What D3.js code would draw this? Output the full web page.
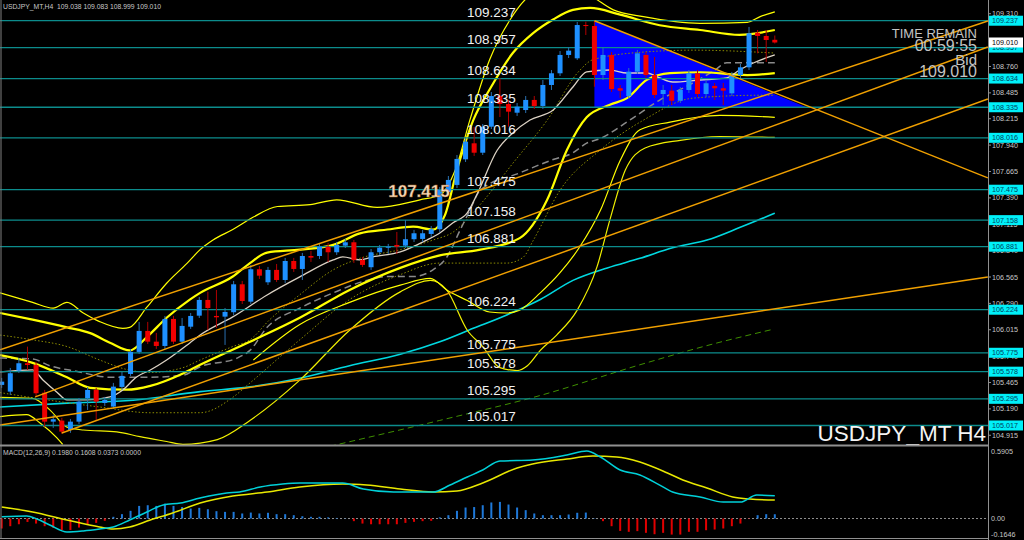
<!DOCTYPE html>
<html><head><meta charset="utf-8">
<script src="https://cdnjs.cloudflare.com/ajax/libs/d3/7.8.5/d3.min.js"></script>
<style>body{margin:0;background:#000;}svg{display:block;}</style>
</head><body>
<svg id="chart" width="1024" height="540"></svg>
<script>
// ---------- DATA ----------
const opens  = [105.440,105.370,105.589,105.666,105.648,105.359,105.057,105.068,104.971,105.057,105.301,105.388,105.252,105.214,105.419,105.554,105.784,106.003,105.891,105.846,106.128,105.891,106.047,106.162,106.326,106.159,106.152,106.198,106.489,106.308,106.646,106.510,106.639,106.534,106.732,106.649,106.784,106.784,106.881,106.823,106.892,106.927,106.743,106.667,106.823,106.871,106.899,106.892,106.959,106.962,107.014,107.063,107.452,107.525,107.792,107.959,107.861,108.132,108.452,108.369,108.278,108.306,108.411,108.348,108.567,108.689,108.880,108.845,109.192,109.182,108.671,108.880,108.533,108.452,108.706,108.880,108.671,108.473,108.508,108.403,108.515,108.689,108.473,108.557,108.533,108.480,108.671,108.751,109.112,109.078,109.038];
const highs  = [105.513,105.617,105.721,105.839,105.680,105.388,105.127,105.096,105.085,105.304,105.419,105.409,105.315,105.461,105.575,105.815,106.097,106.097,105.982,106.159,106.159,106.138,106.190,106.357,106.412,106.430,106.242,106.524,106.524,106.691,106.680,106.670,106.701,106.764,106.764,106.816,106.837,106.920,106.920,106.930,106.962,106.951,106.774,106.857,106.899,106.910,107.035,107.160,107.056,107.056,107.097,107.504,107.618,107.837,108.014,108.129,108.160,108.494,108.640,108.411,108.379,108.452,108.452,108.619,108.723,108.921,108.963,109.224,109.227,109.237,108.963,108.911,108.567,108.744,108.932,108.911,108.859,108.567,108.567,108.546,108.723,108.723,108.619,108.588,108.588,108.703,108.786,109.172,109.140,109.140,109.083];
const lows   = [105.409,105.336,105.565,105.596,105.325,105.005,104.992,104.929,104.940,105.033,105.179,105.075,105.221,105.190,105.388,105.534,105.763,105.867,105.815,105.815,105.867,105.867,106.024,106.138,106.013,106.034,105.857,106.169,106.284,106.284,106.545,106.482,106.513,106.503,106.618,106.534,106.722,106.753,106.722,106.795,106.868,106.712,106.670,106.639,106.795,106.805,106.805,106.868,106.930,106.930,106.983,107.035,107.420,107.493,107.764,107.827,107.837,108.108,108.233,108.132,108.244,108.275,108.317,108.317,108.515,108.661,108.848,108.828,109.088,108.549,108.619,108.494,108.431,108.421,108.682,108.640,108.431,108.358,108.358,108.379,108.484,108.442,108.442,108.411,108.358,108.452,108.640,108.723,108.897,108.807,108.999];
const closes = [105.474,105.562,105.666,105.648,105.353,105.057,105.082,104.953,105.057,105.266,105.388,105.266,105.283,105.422,105.534,105.784,106.003,105.891,105.846,106.128,105.891,106.055,106.159,106.326,106.242,106.145,106.201,106.489,106.315,106.646,106.579,106.639,106.534,106.732,106.649,106.784,106.767,106.881,106.823,106.899,106.927,106.743,106.691,106.823,106.871,106.881,106.881,106.959,107.021,107.021,107.063,107.472,107.577,107.796,107.976,107.861,108.132,108.452,108.369,108.289,108.341,108.411,108.348,108.567,108.689,108.880,108.925,109.192,109.182,108.671,108.880,108.525,108.508,108.706,108.897,108.671,108.463,108.515,108.403,108.515,108.689,108.473,108.585,108.533,108.508,108.671,108.751,109.106,109.078,109.036,109.010];

// MACD histogram, one per bar
const macdHist = [-0.087,-0.067,-0.05,-0.03,-0.044,-0.067,-0.081,-0.1,-0.1,-0.079,-0.05,-0.038,-0.02,0.015,0.038,0.067,0.11,0.116,0.11,0.13,0.11,0.1,0.087,0.093,0.081,0.064,0.058,0.058,0.044,0.052,0.044,0.05,0.038,0.038,0.029,0.02,0.015,0.015,0.01,0.005,0.002,-0.023,-0.044,-0.05,-0.05,-0.05,-0.05,-0.038,-0.029,-0.023,-0.02,0.01,0.029,0.067,0.096,0.1,0.116,0.14,0.145,0.122,0.096,0.073,0.044,0.029,0.029,0.029,0.035,0.05,0.052,0.003,-0.023,-0.067,-0.108,-0.116,-0.11,-0.125,-0.137,-0.125,-0.14,-0.14,-0.116,-0.116,-0.102,-0.096,-0.087,-0.067,-0.044,-0.003,0.029,0.038,0.0373];
// MACD lines [barIndex, value]
const macdMain = [[0,0.016],[2.9,0.022],[4.1,-0.004],[5.6,-0.057],[7.6,-0.118],[9.5,-0.109],[11.4,-0.092],[13,-0.074],[14.9,-0.013],[16.9,0.057],[18.8,0.118],[20.8,0.135],[23.1,0.179],[26.2,0.223],[27.7,0.231],[30.1,0.275],[32.7,0.301],[34.7,0.31],[39.7,0.31],[42.1,0.257],[45.6,0.231],[50.2,0.231],[52.2,0.292],[54.2,0.362],[56,0.423],[58,0.502],[61.8,0.51],[65.8,0.554],[68.1,0.589],[69.7,0.537],[72,0.423],[74.3,0.38],[76.6,0.292],[78.1,0.231],[81.3,0.188],[84,0.144],[86,0.144],[87.9,0.205],[90,0.198]];
const macdSignal = [[0,0.1],[3.6,0.057],[7.6,-0.013],[11.4,-0.074],[13,-0.092],[14.9,-0.074],[17.3,-0.013],[19.9,0.048],[23.1,0.135],[26.9,0.196],[30.9,0.231],[34.7,0.275],[39.7,0.301],[42.5,0.292],[46.4,0.257],[50.2,0.231],[53,0.24],[56,0.31],[60,0.441],[61.8,0.476],[65.8,0.519],[68.8,0.545],[71.6,0.537],[74.3,0.493],[77.5,0.397],[79.3,0.336],[82.1,0.266],[85.1,0.188],[87.1,0.17],[90,0.161]];

// Indicator lines on price chart [barIndex, price]
const bandUpperThin = [[-0.2,106.40],[3.6,106.30],[6,106.24],[7.6,106.30],[9.5,106.19],[11.4,106.10],[14.1,106.03],[14.9,106.04],[16.9,106.25],[19.2,106.50],[21.6,106.71],[23.1,106.85],[24.6,106.95],[26.9,107.06],[29.3,107.19],[32.1,107.30],[35.9,107.32],[39,107.37],[43.7,107.29],[48.7,107.37],[51,107.42],[52.8,107.68],[54.5,108.20],[56.8,108.83],[59.2,109.25],[61.5,109.50],[65,109.61],[68.5,109.50],[71.2,109.35],[74.7,109.28],[81.3,109.21],[86.8,109.22],[88.3,109.28],[90,109.33]];
const bandUpper = [[-0.2,106.19],[3.6,106.12],[7.6,106.04],[10.3,105.98],[12.6,105.88],[14.9,105.80],[16.9,105.94],[19.2,106.14],[21.9,106.33],[23.1,106.40],[26.9,106.57],[28.9,106.71],[30.9,106.82],[34.7,106.85],[38.6,106.90],[41.7,107.02],[44.9,107.06],[47.9,107.09],[50.2,107.06],[51.6,107.21],[53,107.68],[54.9,108.20],[56.8,108.52],[59.5,108.90],[61.9,109.11],[64.2,109.25],[66.5,109.35],[68.5,109.37],[72,109.30],[76.6,109.19],[81.3,109.14],[85.9,109.09],[90,109.14]];
const bandLower1 = [[-0.2,105.75],[3.6,105.67],[7.6,105.52],[10.3,105.41],[14.6,105.39],[17.3,105.43],[21.1,105.56],[23.1,105.65],[28.9,105.89],[34.7,106.14],[40.5,106.43],[46.4,106.66],[51,106.79],[55.7,106.85],[60.3,106.97],[63.5,107.37],[65.8,107.89],[68.1,108.23],[70.8,108.36],[72.8,108.43],[75.1,108.62],[77.8,108.69],[81.3,108.70],[86.8,108.67],[90,108.69]];
const bandLower2 = [[29.3,105.70],[34.7,106.07],[40.5,106.30],[46.4,106.48],[49.9,106.55],[51.8,106.43],[54.2,106.32],[56.8,106.20],[58.8,106.19],[60.3,106.22],[62.7,106.40],[65,106.61],[67.3,106.88],[69.7,107.26],[72,107.78],[74.3,108.10],[77.8,108.18],[83.6,108.25],[90,108.23]];
const bandLower3 = [[-0.2,105.31],[3.6,105.30],[5.6,105.18],[7.6,105.00],[9.5,104.97],[13.4,104.95],[16.1,104.90],[19.2,104.85],[21.1,104.82],[25.1,104.87],[28.9,105.07],[34.7,105.49],[40.5,106.01],[46.4,106.41],[49.9,106.53],[51.8,106.43],[54.2,106.01],[56,105.84],[58,105.62],[60,105.59],[61.2,105.64],[62.7,105.80],[64.6,105.96],[67,106.22],[69.3,106.67],[70.8,107.16],[72.6,107.68],[74.9,107.91],[79,107.99],[83.6,108.03],[90,108.02]];
const bandLowerThinL = [[-0.2,105.11],[2.9,105.13],[4.5,105.04],[6.4,104.89],[7.1,104.82]];
const maFast = [[-0.2,105.575],[3.6,105.596],[4.8,105.492],[6.4,105.367],[7.6,105.283],[9.9,105.283],[12.6,105.315],[14.1,105.388],[15.7,105.523],[17.3,105.596],[19.2,105.700],[21.9,105.878],[23.1,105.961],[26.9,106.149],[30.9,106.378],[34.7,106.566],[38.6,106.743],[39.7,106.774],[41.7,106.743],[43.2,106.774],[46.4,106.826],[49.5,106.951],[51,107.024],[52.5,107.128],[54.2,107.233],[55.3,107.420],[57.7,107.889],[59.5,108.067],[61.5,108.202],[64.2,108.306],[66.5,108.546],[68.1,108.703],[70.8,108.723],[72.8,108.692],[75.1,108.692],[76.6,108.640],[78.1,108.598],[81.3,108.619],[84.4,108.640],[85.9,108.723],[87.5,108.796],[90,108.880]];
const maMid = [[-0.2,105.96],[3.6,105.91],[7.6,105.84],[11.4,105.70],[14.6,105.60],[17.3,105.57],[21.1,105.62],[23.1,105.70],[26.9,105.84],[28.9,105.91],[31.2,106.12],[34.7,106.38],[38.6,106.64],[41.7,106.76],[46.4,106.85],[50.2,106.95],[52.5,107.03],[55.7,107.32],[59.5,107.75],[63.5,108.20],[67.3,108.72],[68.8,108.83],[74.7,108.91],[80.5,108.93],[90,108.90]];
const maSlow = [[-0.2,105.36],[5.6,105.28],[11.4,105.21],[17.3,105.15],[23.1,105.15],[26.9,105.31],[28.9,105.46],[34.7,105.91],[40.5,106.33],[46.4,106.59],[51,106.71],[58.8,106.71],[60.7,106.77],[61.9,106.95],[65,107.47],[69.7,107.89],[74.7,108.20],[80.5,108.43],[88.3,108.46],[90,108.46]];
const maDashed = [[-0.2,105.72],[3.6,105.71],[5.6,105.64],[8.8,105.58],[12.6,105.52],[17.3,105.52],[21.1,105.54],[23.1,105.63],[27.4,105.72],[28.9,105.80],[30.9,106.04],[34.7,106.24],[38.6,106.40],[42.5,106.53],[44.9,106.57],[47.9,106.57],[50.2,106.64],[51.8,106.77],[53.4,107.06],[54.5,107.26],[55.7,107.47],[60.3,107.65],[64.2,107.79],[66.5,107.86],[68.1,107.96],[69.7,108.01],[73.1,108.20],[76.6,108.41],[80.1,108.57],[83,108.72],[84.4,108.80],[90,108.80]];
const maLong = [[-0.2,105.21],[7.6,105.25],[15.3,105.28],[23.1,105.37],[28.9,105.42],[34.7,105.51],[40.5,105.64],[46.4,105.76],[51,105.89],[54.9,106.03],[58.8,106.17],[62.7,106.33],[66.5,106.53],[70.5,106.66],[74.3,106.76],[78.1,106.87],[82.1,106.95],[85.9,107.08],[90,107.23]];
const maLongDashed = [[38.2,104.80],[51,105.07],[62.7,105.33],[74.3,105.65],[82.1,105.85],[89.8,106.02]];

// Trend lines: [[barIndex, price],[barIndex, price]]
const trendLines = [
  [[-0.2,105.023],[114.8,106.566]],
  [[-0.2,105.805],[114.8,109.234]],
  [[3.9,105.315],[114.8,108.963]],
  [[7.0,104.939],[114.8,108.421]],
  [[69,109.237],[114.8,107.598]]
];
const triangle = [[69,109.237],[69,108.335],[93.7,108.335]];

const levels = [109.237,108.957,108.634,108.335,108.016,107.475,107.158,106.881,106.224,105.775,105.578,105.295,105.017];
const axisTicks = [109.310,109.035,108.760,108.485,108.215,107.940,107.665,107.390,107.115,106.840,106.565,106.290,106.015,105.740,105.465,105.190,104.915];
const macdTicks = [0.5905, 0.00, -0.1646];
const highLabel = {price:107.415, text:"107.415", bar:45};
const bidPrice = 109.010;
const headerText = "USDJPY_MT,H4  109.038 109.083 108.999 109.010";
const macdText = "MACD(12,26,9) 0.1980 0.1608 0.0373 0.0000";
const infoLines = ["TIME REMAIN","00:59:55","Bid","109.010"];
const symbolText = "USDJPY_MT H4";

// ---------- LAYOUT ----------
const W = 1024, H = 540;
const plotR = 988, mainB = 444, macdT = 447, macdB = 538;
const svg = d3.select("#chart");
svg.append("rect").attr("width",W).attr("height",H).attr("fill","#000");

const x = d3.scaleLinear().domain([0,90]).range([1.7,774.8]);
const y = d3.scaleLinear().domain([104.824,109.453]).range([mainB,0]);
const ym = d3.scaleLinear().domain([-0.170,0.624]).range([macdB,macdT]);

const defs = svg.append("defs");
defs.append("clipPath").attr("id","clipMain").append("rect").attr("x",0).attr("y",0).attr("width",plotR).attr("height",mainB+1);
defs.append("clipPath").attr("id","clipMacd").append("rect").attr("x",0).attr("y",macdT).attr("width",plotR).attr("height",macdB-macdT);

const main = svg.append("g").attr("clip-path","url(#clipMain)");
const font = "'Liberation Sans', Arial, sans-serif";

// triangle (background object)
main.append("path").attr("d", d3.line().x(d=>x(d[0])).y(d=>y(d[1]))(triangle)+"Z").attr("fill","#0000ff");

const lineGen = d3.line().x(d=>x(d[0])).y(d=>y(d[1])).curve(d3.curveMonotoneX);
function drawLine(data, color, width, dash){
  const p = main.append("path").attr("d", lineGen(data)).attr("fill","none")
    .attr("stroke",color).attr("stroke-width",width).attr("stroke-linejoin","round");
  if(dash) p.attr("stroke-dasharray",dash);
}
drawLine(maLongDashed, "#3f8f00", 1, "6,4");
drawLine(maLong, "#00d8e0", 1.6);
drawLine(maSlow, "#8c8c00", 1, "1.5,2");
drawLine(maMid, "#8c8c00", 1, "1.5,2");
drawLine(maDashed, "#8a8a8a", 1.5, "7,4");
drawLine(bandUpperThin, "#ffff00", 1.2);
drawLine(bandLowerThinL, "#ffff00", 1.2);
drawLine(bandLower3, "#f0f000", 1.2);
drawLine(bandLower2, "#ffff00", 1.2);
drawLine(bandUpper, "#ffff00", 2.2);
drawLine(bandLower1, "#ffff00", 2.2);
drawLine(maFast, "#dcd2c4", 1.3);

// horizontal levels
main.selectAll(".lvl").data(levels).join("line")
  .attr("x1",0).attr("x2",plotR).attr("y1",d=>y(d)).attr("y2",d=>y(d))
  .attr("stroke","#0c8c8c").attr("stroke-width",1.3);

// candles
const bars = d3.range(opens.length);
const bw = 5;
const cg = main.append("g");
bars.forEach(i=>{
  const up = closes[i] >= opens[i];
  const col = up ? "#1e90ff" : "#f00000";
  cg.append("line").attr("x1",x(i)).attr("x2",x(i)).attr("y1",y(highs[i])).attr("y2",y(lows[i]))
    .attr("stroke", up ? "#2a70b0" : "#b00000").attr("stroke-width",1);
  const t = y(Math.max(opens[i],closes[i])), b = y(Math.min(opens[i],closes[i]));
  cg.append("rect").attr("x",x(i)-bw/2).attr("y",t).attr("width",bw).attr("height",Math.max(1,b-t)).attr("fill",col);
});

// trend lines
main.selectAll(".tl").data(trendLines).join("line")
  .attr("x1",d=>x(d[0][0])).attr("y1",d=>y(d[0][1])).attr("x2",d=>x(d[1][0])).attr("y2",d=>y(d[1][1]))
  .attr("stroke","#f0a000").attr("stroke-width",1.5);

// level labels on chart
main.selectAll(".lt").data(levels).join("text")
  .attr("x",467).attr("y",d=>y(d)-4).text(d=>d.toFixed(3))
  .attr("fill","#f2f2f2").attr("font-family",font).attr("font-size",13.5);

// high label
main.append("text").attr("x",x(highLabel.bar)).attr("y",y(highLabel.price)+2).text(highLabel.text)
  .attr("fill","#f6dcc0").attr("font-family",font).attr("font-size",17).attr("font-weight","bold")
  .attr("stroke","#a06020").attr("stroke-width",0.4);

// info text (top right)
const info = main.append("g").attr("font-family",font).attr("fill","#c4c4c4").attr("text-anchor","end");
info.append("text").attr("x",977).attr("y",38).attr("font-size",13).text(infoLines[0]);
info.append("text").attr("x",977).attr("y",51).attr("font-size",16).text(infoLines[1]);
info.append("text").attr("x",977).attr("y",65).attr("font-size",15).text(infoLines[2]);
info.append("text").attr("x",977).attr("y",77).attr("font-size",16).text(infoLines[3]);

// symbol watermark
main.append("text").attr("x",986).attr("y",441).attr("text-anchor","end").text(symbolText)
  .attr("fill","#f4f4f4").attr("font-family",font).attr("font-size",22.5);

// header
svg.append("text").attr("x",3).attr("y",9).text(headerText).attr("fill","#c8c8c8")
  .attr("font-family",font).attr("font-size",6.8).style("white-space","pre");

// ---------- MACD ----------
const mg = svg.append("g").attr("clip-path","url(#clipMacd)");
mg.append("line").attr("x1",0).attr("x2",plotR).attr("y1",ym(0)).attr("y2",ym(0))
  .attr("stroke","#909090").attr("stroke-dasharray","2,2").attr("stroke-width",1);
bars.forEach(i=>{
  const v = macdHist[i];
  mg.append("rect").attr("x",x(i)-1).attr("width",2)
    .attr("y",Math.min(ym(v),ym(0))).attr("height",Math.abs(ym(v)-ym(0)))
    .attr("fill", v>=0 ? "#1e78d8" : "#e00000");
});
const mline = d3.line().x(d=>x(d[0])).y(d=>ym(d[1])).curve(d3.curveMonotoneX);
mg.append("path").attr("d",mline(macdSignal)).attr("fill","none").attr("stroke","#e8e800").attr("stroke-width",1.5);
mg.append("path").attr("d",mline(macdMain)).attr("fill","none").attr("stroke","#00d0d8").attr("stroke-width",1.5);
svg.append("text").attr("x",3).attr("y",455).text(macdText).attr("fill","#c8c8c8")
  .attr("font-family",font).attr("font-size",6.8);

// ---------- FRAME & AXES ----------
svg.append("line").attr("x1",1).attr("x2",1).attr("y1",0).attr("y2",macdB).attr("stroke","#808080");
svg.append("line").attr("x1",0).attr("x2",plotR).attr("y1",445.5).attr("y2",445.5).attr("stroke","#909090").attr("stroke-width",2);
svg.append("line").attr("x1",0).attr("x2",plotR).attr("y1",macdB+0.5).attr("y2",macdB+0.5).attr("stroke","#909090");
svg.append("line").attr("x1",plotR+0.5).attr("x2",plotR+0.5).attr("y1",0).attr("y2",H).attr("stroke","#909090");

const ax = svg.append("g").attr("font-family",font).attr("font-size",7.2);
ax.selectAll(".tk").data(axisTicks).join("g").each(function(d){
  const g = d3.select(this);
  g.append("line").attr("x1",plotR).attr("x2",plotR+3).attr("y1",y(d)).attr("y2",y(d)).attr("stroke","#909090");
  g.append("text").attr("x",plotR+4).attr("y",y(d)+2.6).text(d.toFixed(3)).attr("fill","#c8c8c8");
});
ax.selectAll(".lb").data(levels).join("g").each(function(d){
  const g = d3.select(this);
  g.append("rect").attr("x",plotR+1).attr("y",y(d)-5).attr("width",34).attr("height",10).attr("fill","#00f0f8");
  g.append("text").attr("x",plotR+4).attr("y",y(d)+2.6).text(d.toFixed(3)).attr("fill","#004060");
});
ax.append("rect").attr("x",plotR+1).attr("y",y(bidPrice)-5).attr("width",34).attr("height",10).attr("fill","#ffffff");
ax.append("text").attr("x",plotR+4).attr("y",y(bidPrice)+2.6).text(bidPrice.toFixed(3)).attr("fill","#000");

ax.selectAll(".mt").data(macdTicks).join("text")
  .attr("x",plotR+3).attr("y",d=>Math.min(Math.max(ym(d)+2.6,454),537)).text(d=>d===0?"0.00":d.toFixed(4)).attr("fill","#c8c8c8");
</script>
</body></html>
